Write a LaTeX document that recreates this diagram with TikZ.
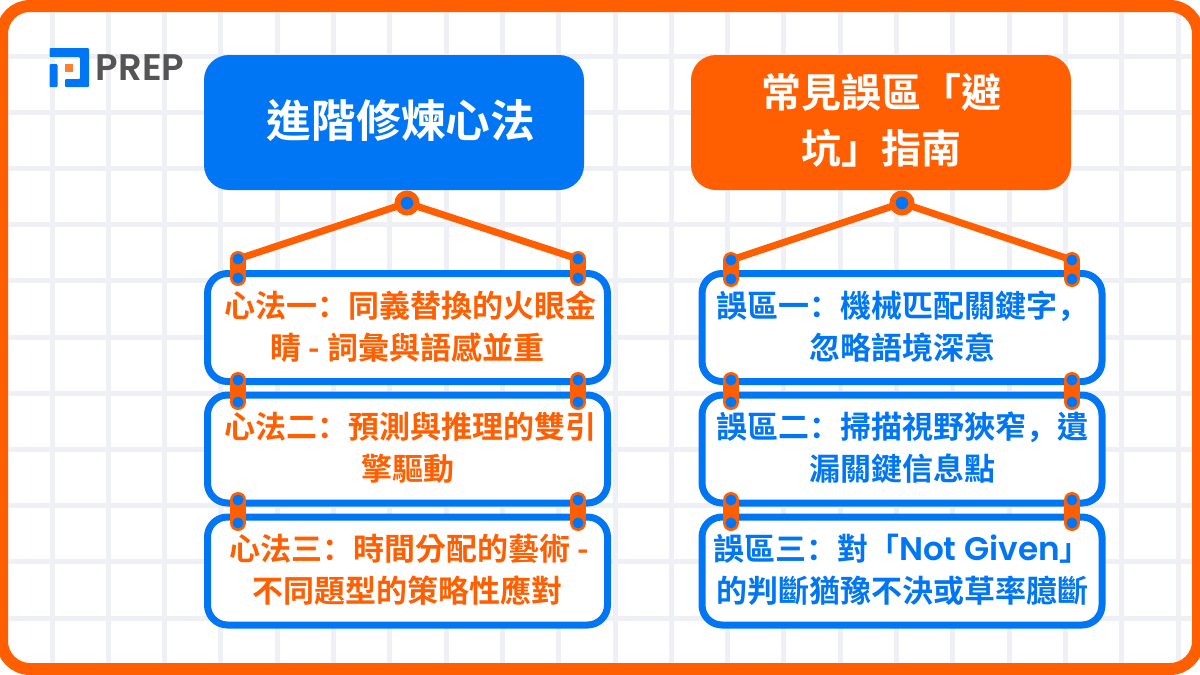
\documentclass[tikz,border=0pt]{standalone}
\usepackage{fontspec}
\setmainfont{Noto Sans CJK TC}[BoldFont=* Bold]
\newfontfamily\latinfont{Poppins}[BoldFont=* SemiBold]
\newfontfamily\puncfont{Noto Sans CJK SC}[BoldFont=* Bold]
\newcommand{\punc}[1]{{\puncfont\bfseries #1}}
\usetikzlibrary{calc}
\definecolor{prepblue}{HTML}{0076F5}
\definecolor{preporange}{HTML}{FF5F00}
\definecolor{gridgray}{HTML}{EFF0F5}
\definecolor{prepgray}{HTML}{555555}
\tikzset{
	headbox/.style={rounded corners=25pt,minimum width=380pt,minimum height=135pt,inner sep=0pt,text=white,align=center,text depth=9pt},
	itembox/.style={rounded corners=20pt,draw=prepblue,line width=7pt,fill=white,minimum width=400pt,minimum height=108pt,inner sep=0pt,align=center,text depth=5.5pt,font=\fontsize{31}{42}\selectfont\bfseries},
	pin/.style={circle,fill=prepblue,minimum size=11pt,inner sep=0pt},
	toppin/.style={circle,fill=prepblue,draw=preporange,line width=6pt,minimum size=19pt,inner sep=0pt},
	strap/.style={preporange,line width=7pt},
	link/.style={preporange,line width=16pt,line cap=round}
}
\begin{document}
\begin{tikzpicture}[x=1pt,y=-1pt]
	\useasboundingbox (0,0) rectangle (1200,675);
	\fill[white] (0,0) rectangle (1200,675);
	% grid
	\foreach \gx in {0,...,20}
		\fill[gridgray] ({49.5+56.3*\gx},0) rectangle ({54.5+56.3*\gx},675);
	\foreach \gy in {0,...,10}
		\fill[gridgray] (0,{53.5+56.2*\gy}) rectangle (1200,{58.5+56.2*\gy});
	\draw[preporange,line width=12pt,rounded corners=28pt] (2,6) rectangle (1198,669);

	% logo
	\fill[prepblue,rounded corners=1pt] (49.5,48) -- (89,48) -- (89,87) -- (65,87) -- (65,79) -- (80,79) -- (80,57) -- (49.5,57) -- cycle;
	\fill[prepblue,rounded corners=1pt] (49.5,64) rectangle (57.5,87);
	\fill[preporange!80] (65,64) rectangle (72.5,71.5);
	\node[text=prepgray,font=\latinfont\fontsize{37}{37}\selectfont\bfseries,inner sep=0pt] (logotext) at (140,68) {PREP};

	% heads
	\node[headbox,fill=prepblue,font=\fontsize{44.7}{56}\selectfont\bfseries] (headl) at (394,122.5) {\hspace*{14pt}進階修煉心法};
	\node[headbox,fill=preporange,font=\fontsize{40}{56}\selectfont\bfseries] (headr) at (881,122.5) {常見誤區「避\\坑」指南};

	% left column
	\node[itembox,text=preporange] (l1) at (407.5,327.5) {\hspace*{5pt}心法一\punc{：}同義替換的火眼金\\睛 - 詞彙與語感並重};
	\node[itembox,text=preporange] (l2) at (407.5,449) {\hspace*{5pt}心法二\punc{：}預測與推理的雙引\\擎驅動};
	\node[itembox,text=preporange] (l3) at (407.5,571) {\hspace*{3pt}心法三\punc{：}時間分配的藝術 -\\不同題型的策略性應對};

	% right column
	\node[itembox,text=prepblue] (r1) at (902,327.5) {誤區一\punc{：}機械匹配關鍵字\punc{，}\\忽略語境深意};
	\node[itembox,text=prepblue] (r2) at (902,449) {誤區二\punc{：}掃描視野狹窄\punc{，}遺\\漏關鍵信息點};
	\node[itembox,text=prepblue] (r3) at (902,571) {誤區三\punc{：}對「{\latinfont\bfseries\fontsize{32.7}{42}\selectfont Not Given}」\\的判斷猶豫不決或草率臆斷};

	% pins
	\foreach \pname/\px/\py in {a/238/259,b/238/278,c/578/259,d/578/278,e/238/380,f/238/402,g/578/380,h/578/402,i/238/500,j/238/523,k/578/500,m/578/523,n/731/260,o/731/279,p/1072/260,q/1072/279,s/731/380,t/731/402,u/1072/380,v/1072/402,w/731/500,x/731/523,y/1072/500,z/1072/523}
		\coordinate (c\pname) at (\px,\py);
	\foreach \ca/\cb in {a/b,c/d,e/f,g/h,i/j,k/m,n/o,p/q,s/t,u/v,w/x,y/z}
		\draw[link] (c\ca) -- (c\cb);
	\coordinate (ctl) at (407,203);
	\coordinate (ctr) at (902,203);
	\draw[strap] (ca) -- (ctl) -- (cc);
	\draw[strap] (cn) -- (ctr) -- (cp);
	\foreach \pname in {a,b,c,d,e,f,g,h,i,j,k,m,n,o,p,q,s,t,u,v,w,x,y,z}
		\node[pin] (p\pname) at (c\pname) {};
	\node[toppin] (topl) at (ctl) {};
	\node[toppin] (topr) at (ctr) {};
\end{tikzpicture}
\end{document}
